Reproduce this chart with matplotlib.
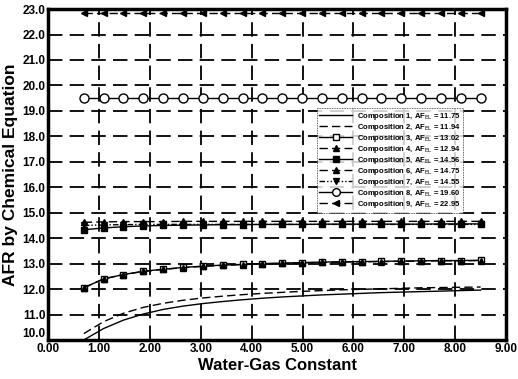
import numpy as np
import matplotlib
matplotlib.use("Agg")
from matplotlib import pyplot as plt

# water-gas constant values where the compositions were evaluated
wgc = [0.70, 1.09, 1.48, 1.87, 2.26, 2.65, 3.04, 3.43, 3.82, 4.21, 4.60,
       4.99, 5.38, 5.77, 6.16, 6.55, 6.94, 7.33, 7.72, 8.11, 8.50]

comp1 = [10.00, 10.45, 10.78, 11.02, 11.20, 11.33, 11.43, 11.51, 11.58, 11.64, 11.69,
         11.73, 11.77, 11.80, 11.83, 11.86, 11.88, 11.90, 11.92, 11.94, 11.96]
comp2 = [10.25, 10.72, 11.05, 11.28, 11.44, 11.56, 11.65, 11.72, 11.78, 11.83, 11.87,
         11.91, 11.94, 11.97, 11.99, 12.01, 12.03, 12.05, 12.06, 12.07, 12.08]
comp3 = [12.05, 12.40, 12.57, 12.70, 12.78, 12.85, 12.90, 12.94, 12.97, 13.00, 13.02,
         13.04, 13.06, 13.07, 13.08, 13.09, 13.10, 13.11, 13.12, 13.12, 13.13]
comp4 = [12.05, 12.40, 12.57, 12.69, 12.77, 12.84, 12.89, 12.93, 12.96, 12.99, 13.01,
         13.03, 13.05, 13.06, 13.07, 13.08, 13.09, 13.10, 13.11, 13.11, 13.12]
comp5 = [14.33, 14.40, 14.45, 14.48, 14.50, 14.51, 14.52, 14.53, 14.53, 14.54, 14.54,
         14.54, 14.55, 14.55, 14.55, 14.55, 14.55, 14.55, 14.56, 14.56, 14.56]
comp6 = [14.62, 14.64, 14.65, 14.65, 14.65, 14.66, 14.66, 14.66, 14.66, 14.66, 14.66,
         14.66, 14.66, 14.66, 14.66, 14.66, 14.66, 14.66, 14.66, 14.66, 14.66]
comp7 = [14.50, 14.52, 14.53, 14.54, 14.54, 14.54, 14.54, 14.54, 14.54, 14.54, 14.54,
         14.54, 14.54, 14.54, 14.54, 14.54, 14.54, 14.54, 14.54, 14.54, 14.54]
comp8 = [19.50] * 21
comp9 = [22.85] * 21

afel = ["11.75", "11.94", "13.02", "12.94", "14.56", "14.75", "14.55", "19.60", "22.95"]

plt.rcParams['font.family'] = ['Liberation Sans', 'DejaVu Sans']
fig = plt.figure(figsize=(5.18, 3.79), dpi=100)
ax = fig.add_axes([0.093, 0.103, 0.884, 0.873])

styles = [
    (comp1, dict(ls='-', lw=1.0)),
    (comp2, dict(ls=(0, (6, 3)), lw=1.0)),
    (comp3, dict(ls='-', lw=1.0, marker='s', mfc='white', ms=5)),
    (comp4, dict(ls=(0, (6, 3)), lw=1.0, marker='^', mfc='black', ms=5)),
    (comp5, dict(ls='-', lw=1.0, marker='s', mfc='black', ms=4.5)),
    (comp6, dict(ls=(0, (6, 3)), lw=1.0, marker='^', mfc='black', ms=5)),
    (comp7, dict(ls=(0, (4, 1.5, 1, 1.5, 1, 1.5)), lw=1.0, marker='v', mfc='black', ms=5)),
    (comp8, dict(ls='-', lw=1.0, marker='o', mfc='white', ms=6.5)),
    (comp9, dict(ls=(0, (6, 3)), lw=1.0, marker='<', mfc='black', ms=5)),
]

for i, (ys, kw) in enumerate(styles):
    ax.plot(wgc, ys, color='black', mec='black', clip_on=False,
            label="Composition %d, AF$_{\\mathrm{EL}}$ = %s" % (i + 1, afel[i]), **kw)

ax.set_xlim(0, 9)
ax.set_ylim(10, 23)
ax.set_xticks(np.arange(0, 9.5, 1.0))
ax.set_yticks(np.arange(10, 23.5, 1.0))
ax.set_xticklabels(["%.2f" % v for v in np.arange(0, 9.5, 1.0)], fontsize=8.5, fontweight='bold')
ylabs = ax.set_yticklabels(["%.1f" % v for v in np.arange(10, 23.5, 1.0)], fontsize=8.5, fontweight='bold')
ylabs[0].set_va('bottom')
ax.tick_params(length=0, pad=2)
ax.grid(True, color='black', ls=(0, (8, 4)), lw=1.3)
for s in ax.spines.values():
    s.set_linewidth(2.5)

ax.set_xlabel("Water-Gas Constant", fontsize=12, fontweight='bold', labelpad=2)
ax.set_ylabel("AFR by Chemical Equation", fontsize=12.5, fontweight='bold', labelpad=3)

leg = ax.legend(loc='upper left', bbox_to_anchor=(0.578, 0.712),
                prop={'weight': 'bold', 'size': 5.5}, frameon=True, fancybox=False,
                edgecolor='black', handlelength=4.3, labelspacing=0.0, borderpad=0.35,
                markerscale=0.85, handletextpad=0.6, handleheight=0.5)
leg.get_frame().set_linewidth(0.6)
leg.get_frame().set_linestyle((0, (1, 1)))

fig.savefig("out.png", dpi=100)
